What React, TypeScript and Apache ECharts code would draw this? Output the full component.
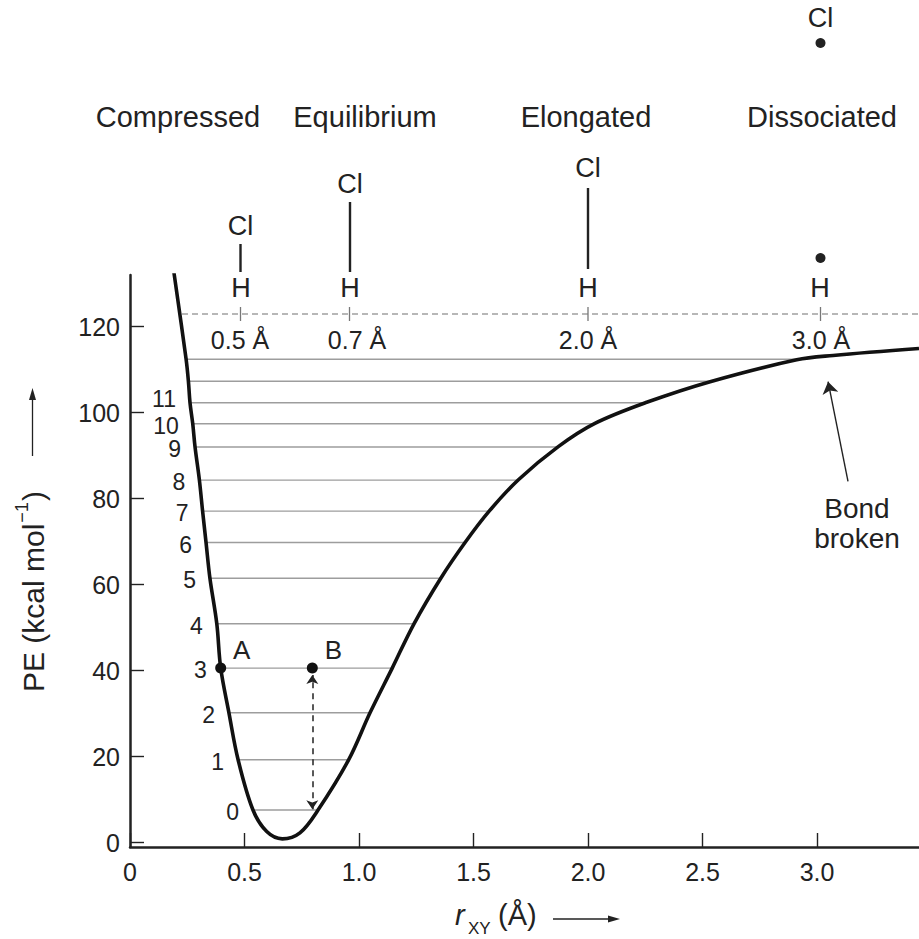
import { useEffect, useRef } from 'react';
import * as echarts from 'echarts';

const FONT = '"Liberation Sans", Arial, Helvetica, sans-serif';
const INK = '#222222';
const LEVEL_GREY = '#9d9d9d';

// ---- axes ----
const X_MIN = 0;
const X_MAX = 3.445;
const Y_MIN = -1;
const Y_MAX = 132;
const xTickValues = [0, 0.5, 1.0, 1.5, 2.0, 2.5, 3.0];
const yTickValues = [0, 20, 40, 60, 80, 100, 120];

// ---- potential energy curve (r in Å, PE in kcal/mol) ----
const leftBranchR = [0.192, 0.245, 0.255, 0.262, 0.274, 0.284, 0.303, 0.317, 0.332, 0.349, 0.379, 0.396, 0.432, 0.472, 0.537, 0.597, 0.665];
const leftBranchE = [132.5, 112.4, 107.3, 102.3, 97.4, 92.0, 84.3, 77.1, 69.8, 61.5, 50.9, 40.6, 30.2, 19.3, 7.6, 2.6, 0.9];
const rightBranchR = [0.665, 0.742, 0.821, 0.955, 1.048, 1.145, 1.24, 1.357, 1.463, 1.57, 1.696, 1.87, 2.03, 2.256, 2.533, 2.911, 3.07, 3.445];
const rightBranchE = [0.9, 2.3, 7.6, 19.3, 30.2, 40.6, 50.9, 61.5, 69.8, 77.2, 84.4, 92.1, 97.5, 102.4, 107.2, 112.3, 113.3, 114.9];

// ---- vibrational levels ----
const levelE = [7.6, 19.3, 30.2, 40.6, 50.9, 61.5, 69.8, 77.1, 84.3, 92.0, 97.4, 102.3, 107.3, 112.4];
const levelLabels = ['0', '1', '2', '3', '4', '5', '6', '7', '8', '9', '10', '11', '', ''];

// ---- points A and B ----
const pointLevel = 3;
const pointBR = 0.796;
const vibArrowE = [7.8, 39.0];

// ---- "Bond broken" arrow ----
const bondArrowR = [3.135, 3.048];
const bondArrowE = [84.0, 107.2];

// ---- annotation texts ----
const stageNames = ['Compressed', 'Equilibrium', 'Elongated', 'Dissociated'];
const bondLengthLabels = ['0.5 Å', '0.7 Å', '2.0 Å', '3.0 Å'];

function crossing(rs: number[], es: number[], e: number): number {
  for (let i = 0; i < rs.length - 1; i++) {
    if ((e - es[i]) * (e - es[i + 1]) <= 0 && es[i] !== es[i + 1]) {
      return rs[i] + ((e - es[i]) / (es[i + 1] - es[i])) * (rs[i + 1] - rs[i]);
    }
  }
  return rs[rs.length - 1];
}

function measure(text: string, font: string): number {
  const ctx = document.createElement('canvas').getContext('2d');
  if (!ctx) return text.length * 10;
  ctx.font = font;
  return ctx.measureText(text).width;
}

function txt(text: string, x: number, y: number, size: number, extra: any = {}) {
  return {
    type: 'text',
    x,
    y,
    silent: true,
    style: {
      text,
      fill: INK,
      fontSize: size,
      fontFamily: FONT,
      align: 'center',
      verticalAlign: 'middle',
      ...extra,
    },
  };
}

function vline(x: number, y1: number, y2: number, width: number, color = INK, extra: any = {}) {
  return {
    type: 'line',
    silent: true,
    shape: { x1: x, y1, x2: x, y2 },
    style: { stroke: color, lineWidth: width, ...extra },
  };
}

export default function App() {
  const ref = useRef<HTMLDivElement>(null);

  useEffect(() => {
    if (!ref.current) return;
    const chart = echarts.init(ref.current, undefined, { renderer: 'svg' });

    const curve = [
      ...leftBranchR.map((r, i) => [r, leftBranchE[i]]),
      ...rightBranchR.slice(1).map((r, i) => [r, rightBranchE[i + 1]]),
    ];

    const levelLeft = levelE.map((e) => crossing(leftBranchR, leftBranchE, e));
    const levelRight = levelE.map((e) => crossing(rightBranchR, rightBranchE, e));

    const levelSeries = levelE.map((e, i) => ({
      type: 'line',
      data: [
        [levelLeft[i], e],
        [levelRight[i], e],
      ],
      symbol: 'none',
      silent: true,
      z: 2,
      lineStyle: { color: LEVEL_GREY, width: 1.4 },
    }));

    const aR = levelLeft[pointLevel];
    const aE = levelE[pointLevel];

    const yNameFont = 30;
    const w1 = measure('PE (kcal mol', `${yNameFont}px ${FONT}`);
    const wSup = measure('−1', `18px ${FONT}`);

    // level numbers as plain graphic texts placed through the chart's own scale
    const levelTextEls = (c: any) =>
      levelE
        .map((e, i) => ({ e, i, name: levelLabels[i] }))
        .filter((d) => d.name !== '')
        .map((d) => {
          const p = c.convertToPixel({ gridIndex: 0 }, [levelLeft[d.i], d.e]);
          return txt(d.name, p[0] - 14, p[1] + (d.i === 11 ? -4 : 2), 23, { align: 'right' });
        });

    const graphic: any[] = [
      // stage headers
      txt(stageNames[0], 178, 117, 29),
      txt(stageNames[1], 365, 117, 29),
      txt(stageNames[2], 586, 117, 29),
      txt(stageNames[3], 822, 117, 29),
      // molecules
      txt('Cl', 240.5, 226, 27),
      vline(240.5, 244, 272, 2.4),
      txt('H', 241, 288, 27),
      txt('Cl', 350, 184, 27),
      vline(350, 202, 272, 2.4),
      txt('H', 350, 288, 27),
      txt('Cl', 588, 168, 27),
      vline(588, 188, 269, 2.4),
      txt('H', 588, 288, 27),
      txt('Cl', 820.5, 18, 27),
      { type: 'circle', silent: true, shape: { cx: 820.5, cy: 43, r: 5 }, style: { fill: INK } },
      { type: 'circle', silent: true, shape: { cx: 820.5, cy: 258, r: 5 }, style: { fill: INK } },
      txt('H', 820, 288, 27),
      // dashed reference line with ticks
      {
        type: 'line',
        silent: true,
        shape: { x1: 182, y1: 314, x2: 919, y2: 314 },
        style: { stroke: '#a0a0a0', lineWidth: 1.3, lineDash: [6, 4] },
      },
      vline(240.5, 307, 321, 1.3, '#777'),
      vline(349.5, 307, 321, 1.3, '#777'),
      vline(588, 307, 321, 1.3, '#777'),
      vline(820.5, 307, 321, 1.3, '#777'),
      // bond lengths
      txt(bondLengthLabels[0], 240, 340, 25),
      txt(bondLengthLabels[1], 357, 340, 25),
      txt(bondLengthLabels[2], 588, 340, 25),
      txt(bondLengthLabels[3], 821, 340, 25),
      // Bond broken
      txt('Bond\nbroken', 857, 523, 28, { lineHeight: 30 }),
      // y axis name (rotated)
      {
        type: 'group',
        x: 33,
        y: 692,
        rotation: Math.PI / 2,
        silent: true,
        children: [
          txt('PE (kcal mol', 0, 0, yNameFont, { align: 'left' }),
          txt('−1', w1 + 1, -11, 18, { align: 'left' }),
          txt(')', w1 + wSup + 2, 0, yNameFont, { align: 'left' }),
        ],
      },
      vline(32.5, 456, 398, 1.3),
      {
        type: 'polygon',
        silent: true,
        shape: { points: [[32.5, 388], [29, 400], [36, 400]] },
        style: { fill: INK },
      },
      // x axis name
      txt('r', 455, 915, 29, { align: 'left', fontStyle: 'italic' }),
      txt('XY', 468, 928, 17, { align: 'left', lineHeight: 17 }),
      txt('(Å)', 498, 915, 29, { align: 'left' }),
      {
        type: 'line',
        silent: true,
        shape: { x1: 553, y1: 919, x2: 611, y2: 919 },
        style: { stroke: INK, lineWidth: 1.3 },
      },
      {
        type: 'polygon',
        silent: true,
        shape: { points: [[620, 919], [608, 915.5], [608, 922.5]] },
        style: { fill: INK },
      },
    ];

    const option: any = {
      animation: false,
      backgroundColor: '#ffffff',
      grid: { left: 130, right: 0, top: 275, bottom: 92, containLabel: false },
      xAxis: {
        type: 'value',
        min: X_MIN,
        max: X_MAX,
        splitLine: { show: false },
        axisLine: { show: true, onZero: false, lineStyle: { color: INK, width: 2.5 } },
        axisTick: {
          show: true,
          inside: true,
          length: 14,
          customValues: xTickValues,
          lineStyle: { color: INK, width: 1.4 },
        },
        axisLabel: {
          customValues: xTickValues,
          formatter: (v: number) => (v === 0 ? '0' : v.toFixed(1)),
          fontSize: 25,
          fontFamily: FONT,
          color: INK,
          margin: 12,
        },
      },
      yAxis: {
        type: 'value',
        min: Y_MIN,
        max: Y_MAX,
        splitLine: { show: false },
        axisLine: { show: true, onZero: false, lineStyle: { color: INK, width: 2.5 } },
        axisTick: {
          show: true,
          inside: true,
          length: 14,
          customValues: yTickValues,
          lineStyle: { color: INK, width: 1.4 },
        },
        axisLabel: {
          customValues: yTickValues,
          fontSize: 25,
          fontFamily: FONT,
          color: INK,
          margin: 10,
        },
      },
      series: [
        ...levelSeries,
        {
          type: 'line',
          data: curve,
          smooth: 0.35,
          symbol: 'none',
          silent: true,
          z: 5,
          lineStyle: { color: '#111111', width: 3.6 },
        },
        {
          type: 'scatter',
          silent: true,
          symbolSize: 11,
          z: 7,
          itemStyle: { color: '#111111', opacity: 1 },
          data: [
            { name: 'A', value: [aR, aE] },
            { name: 'B', value: [pointBR, aE] },
          ],
          label: {
            show: true,
            position: 'inside',
            offset: [21, -18],
            formatter: '{b}',
            fontSize: 26,
            fontFamily: FONT,
            color: INK,
          },
        },
        {
          type: 'lines',
          coordinateSystem: 'cartesian2d',
          silent: true,
          z: 4,
          symbol: ['arrow', 'arrow'],
          symbolSize: 9,
          lineStyle: { color: INK, width: 1.5, type: [6, 5], opacity: 1 },
          data: [
            {
              coords: [
                [pointBR, vibArrowE[0]],
                [pointBR, vibArrowE[1]],
              ],
            },
          ],
        },
        {
          type: 'lines',
          coordinateSystem: 'cartesian2d',
          silent: true,
          z: 4,
          symbol: ['none', 'arrow'],
          symbolSize: 12,
          lineStyle: { color: INK, width: 1.4, type: 'solid', opacity: 1 },
          data: [
            {
              coords: [
                [bondArrowR[0], bondArrowE[0]],
                [bondArrowR[1], bondArrowE[1]],
              ],
            },
          ],
        },
      ],
      graphic,
    };

    chart.setOption(option);
    chart.setOption({ graphic: [...graphic, ...levelTextEls(chart)] }, { replaceMerge: ['graphic'] });
    return () => chart.dispose();
  }, []);

  return (
    <div
      ref={ref}
      style={{ position: 'absolute', left: 0, top: 0, width: 919, height: 939, background: '#fff' }}
    />
  );
}
